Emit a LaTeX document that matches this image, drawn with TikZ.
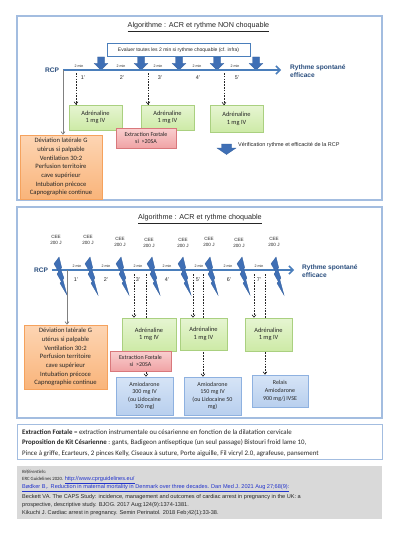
\documentclass[tikz,border=0pt]{standalone}
\usepackage{fontspec}
\setmainfont{Carlito}
\newfontfamily\arial{Liberation Sans}
\usetikzlibrary{arrows.meta}
\definecolor{frameblue}{HTML}{A3BDE0}
\definecolor{lineblue}{HTML}{4A7EBB}
\definecolor{arrowblue}{HTML}{3F6FB5}
\definecolor{arrowedge}{HTML}{35609E}
\definecolor{rcpblue}{HTML}{2A4E7E}
\definecolor{greenedge}{HTML}{AAD080}
\definecolor{greentop}{HTML}{E6F5D2}
\definecolor{greenbot}{HTML}{CDEAA6}
\definecolor{rededge}{HTML}{D9787C}
\definecolor{redtop}{HTML}{F9CFCF}
\definecolor{redbot}{HTML}{F0A3A5}
\definecolor{orangeedge}{HTML}{F5A25D}
\definecolor{orangetop}{HTML}{FDD5B3}
\definecolor{orangebot}{HTML}{F9B47A}
\definecolor{amioedge}{HTML}{8EB1E0}
\definecolor{amiotop}{HTML}{D6E4F6}
\definecolor{amiobot}{HTML}{B8CFEE}
\definecolor{refgray}{HTML}{D9D9D9}
\definecolor{linkblue}{HTML}{2233CC}
\definecolor{txt}{HTML}{262626}
\begin{document}
\begin{tikzpicture}[x=1pt,y=-1pt,
  frame/.style={draw=frameblue,line width=1.2pt},
  box/.style={draw,line width=0.6pt,align=center,inner sep=0pt,text=txt,font=\fontsize{6.4}{7.6}\selectfont},
  greenbox/.style={box,draw=greenedge,top color=greentop,bottom color=greenbot},
  redbox/.style={box,draw=rededge,top color=redtop,bottom color=redbot,font=\fontsize{6}{7.2}\selectfont},
  orangebox/.style={box,draw=orangeedge,top color=orangetop,bottom color=orangebot,font=\fontsize{6.6}{8.7}\selectfont},
  amiobox/.style={box,draw=amioedge,top color=amiotop,bottom color=amiobot,font=\fontsize{6}{7.6}\selectfont},
  evalbox/.style={draw=lineblue,line width=1pt,fill=white,inner sep=0pt,minimum width=143pt,minimum height=13pt,font=\arial\fontsize{5}{5.5}\selectfont,text=txt},
  title/.style={font=\arial\fontsize{7.2}{8}\selectfont,text=txt},
  mainline/.style={draw=lineblue,line width=1.5pt,-{Straight Barb[length=4pt,width=8pt,line width=1.5pt]}},
  rcp/.style={font=\arial\bfseries\fontsize{6.6}{7}\selectfont,text=rcpblue},
  rythme/.style={font=\arial\bfseries\fontsize{6.6}{8.2}\selectfont,text=rcpblue,align=left,anchor=west,inner sep=0pt},
  twomin/.style={font=\arial\fontsize{3.6}{4}\selectfont,text=txt,inner sep=0pt},
  minute/.style={font=\arial\fontsize{5.4}{6}\selectfont,text=txt,inner sep=0pt},
  cee/.style={font=\arial\fontsize{4.6}{5.6}\selectfont,text=txt,align=center,inner sep=0pt},
  dasharrow/.style={draw=txt,line width=0.6pt,dashed,dash pattern=on 1.6pt off 1.2pt,-{Straight Barb[length=2.5pt,width=4pt,line width=0.6pt]}},
  grayarrow/.style={draw=gray,line width=0.9pt,-{Straight Barb[length=2.5pt,width=4pt,line width=0.7pt]}},
  darrow/.pic={\filldraw[fill=arrowblue,draw=arrowedge,line width=0.3pt] (-3.5,0) -- (3.5,0) -- (3.5,6.5) -- (6.8,6.5) -- (0,13) -- (-6.8,6.5) -- (-3.5,6.5) -- cycle;},
  legarrow/.pic={\filldraw[fill=arrowblue,draw=arrowedge,line width=0.3pt] (-5,0) -- (5,0) -- (5,4) -- (9.5,4) -- (0,10.5) -- (-9.5,4) -- (-5,4) -- cycle;},
  bolt/.pic={\filldraw[fill=arrowblue,draw=arrowedge,line width=0.3pt,xscale=1.18] (4.3,0) -- (6.5,10.7) -- (5.6,12) -- (8.4,21) -- (7.5,22.6) -- (11,38) -- (5.1,26.2) -- (6.2,24.6) -- (2.6,17) -- (3.9,14.7) -- (0,6.8) -- cycle;}
]
\useasboundingbox (0,0) rectangle (400,535);
\fill[white] (0,0) rectangle (400,535);

%% ---------- Part 1 ----------
\draw[frame] (17,16) rectangle (382,200);
\node[title] (t1) at (198.5,27) {\underline{Algorithme : ACR et rythme NON choquable}};

\foreach \x in {101,141,179,217,256} \pic at (\x,57) {darrow};
\node[evalbox] (eval) at (178.5,50.5) {Evaluer toutes les 2 min si rythme choquable (cf. infra)};

\coordinate (s1) at (63,70);
\coordinate (f1) at (281,70);
\draw[mainline] (s1) -- (f1);
\node[rcp] (rcp1) at (52,70) {RCP};
\node[rythme] (ry1) at (290,71) {Rythme spontané\\efficace};

\foreach \x [count=\i] in {79,121,158,197,235} \node[twomin] (tma\i) at (\x,66) {2 min};
\foreach \x [count=\i] in {83,122,160,198,237} \node[minute] (mna\i) at (\x,77.5) {\i'};

\node[greenbox,minimum width=53pt,minimum height=25pt] (g1) at (95.5,117.5) {Adrénaline\\1 mg IV};
\node[greenbox,minimum width=53pt,minimum height=25pt] (g2) at (167.5,117.5) {Adrénaline\\1 mg IV};
\node[greenbox,minimum width=53pt,minimum height=27pt] (g3) at (236.5,119) {Adrénaline\\1 mg IV};
\node[redbox,minimum width=60pt,minimum height=20pt] (e1) at (146,138) {Extraction Fœtale\\si \ >20SA};
\node[orangebox,minimum width=82pt,minimum height=64pt] (o1) at (61,167) {Déviation latérale G\\utérus si palpable\\Ventilation 30:2\\Perfusion territoire\\cave supérieur\\Intubation précoce\\Capnographie continue};

\coordinate (da1) at (76,73);
\coordinate (da2) at (148,73);
\coordinate (da3) at (224,73);
\draw[dasharrow] (da1) -- (da1 |- g1.north);
\draw[dasharrow] (da2) -- (da2 |- g2.north);
\draw[dasharrow] (da3) -- (da3 |- g3.north);
\draw[grayarrow] (s1) -- (s1 |- o1.north);

\pic at (226.5,144) {legarrow};
\node[font=\arial\fontsize{5.5}{6}\selectfont,text=txt,anchor=west,inner sep=0pt] (leg) at (238,145.5) {Vérification rythme et efficacité de la RCP};

%% ---------- Part 2 ----------
\draw[frame] (17,207) rectangle (382,418);
\node[title] (t2) at (200,219) {\underline{Algorithme : ACR et rythme choquable}};

\foreach \x/\y [count=\i] in {56/240,88/240,120/242,149/243,183/243,209/242,239/243,274/242}
  \node[cee] (cee\i) at (\x,\y) {CEE\\200 J};

\coordinate (s2) at (52,270);
\coordinate (f2) at (294,270);
\draw[mainline] (s2) -- (f2);
\foreach \x in {54,85,116,147,178,205,237,271} \pic at (\x,257) {bolt};
\node[rcp] (rcp2) at (41,270) {RCP};
\node[rythme] (ry2) at (302,271) {Rythme spontané\\efficace};

\foreach \x [count=\i] in {77,106,138,167,199,228,259} \node[twomin] (tmb\i) at (\x,266) {2 min};
\foreach \x [count=\i] in {76,106,138,167,198,229,259} \node[minute] (mnb\i) at (\x,280) {\i'};

\coordinate (db1) at (146,274);
\coordinate (db2) at (203,274);
\coordinate (db3) at (265,274);
\coordinate (dc1) at (134,274);
\coordinate (dc2) at (193,274);
\coordinate (dc3) at (254,274);

\node[amiobox,minimum width=57pt,minimum height=38pt] (a1) at (144.5,396) {Amiodarone\\300 mg IV\\(ou Lidocaine\\100 mg)};
\node[amiobox,minimum width=57pt,minimum height=38pt] (a2) at (212.5,396) {Amiodarone\\150 mg IV\\(ou Lidocaine 50\\mg)};
\node[amiobox,minimum width=56pt,minimum height=32pt] (a3) at (280,391) {Relais\\Amiodarone\\900 mg/j IVSE};

\draw[dasharrow] (db1) -- (db1 |- a1.north);
\draw[dasharrow] (db2) -- (db2 |- a2.north);
\draw[dasharrow] (db3) -- (db3 |- a3.north);

\node[greenbox,minimum width=54pt,minimum height=33pt] (g4) at (149,334.5) {Adrénaline\\1 mg IV};
\node[greenbox,minimum width=47pt,minimum height=32pt] (g5) at (203.5,334) {Adrénaline\\1 mg IV};
\node[greenbox,minimum width=47pt,minimum height=33pt] (g6) at (268.5,334.5) {Adrénaline\\1 mg IV};
\node[redbox,minimum width=61pt,minimum height=20pt] (e2) at (140.5,361) {Extraction Fœtale\\si \ >20SA};
\node[orangebox,minimum width=83pt,minimum height=64pt] (o2) at (65.5,357) {Déviation latérale G\\utérus si palpable\\Ventilation 30:2\\Perfusion territoire\\cave supérieur\\Intubation précoce\\Capnographie continue};

\draw[dasharrow] (dc1) -- (dc1 |- g4.north);
\draw[dasharrow] (dc2) -- (dc2 |- g5.north);
\draw[dasharrow] (dc3) -- (dc3 |- g6.north);
\coordinate (s2g) at (67,270);
\draw[grayarrow] (s2g) -- (s2g |- o2.north);

%% ---------- Notes ----------
\draw[draw=frameblue,line width=0.9pt] (17,424) rectangle (382,459);
\begin{scope}[every node/.style={anchor=west,inner sep=0pt,text=txt,font=\fontsize{6.9}{8}\selectfont}]
\node (n1) at (22,432) {\textbf{Extraction Fœtale} = extraction instrumentale ou césarienne en fonction de la dilatation cervicale};
\node (n2) at (22,443) {\textbf{Proposition de Kit Césarienne} : gants, Badigeon antiseptique (un seul passage) Bistouri froid lame 10,};
\node (n3) at (22,453.5) {Pince à griffe, Ecarteurs, 2 pinces Kelly, Ciseaux à suture, Porte aiguille, Fil vicryl 2.0, agrafeuse, pansement};
\end{scope}

%% ---------- References ----------
\fill[refgray] (17,466) rectangle (382,519);
\begin{scope}[every node/.style={anchor=west,inner sep=0pt,text=txt}]
\node[font=\itshape\fontsize{4.8}{5}\selectfont] (r0) at (22,472) {Référentiels:};
\node[font=\fontsize{4.8}{5}\selectfont] (r1) at (22,480) {ERC Guidelines 2020. {\arial\fontsize{5.6}{6}\selectfont\textcolor{linkblue}{\underline{http://www.cprguidelines.eu/}}}};
\node[font=\arial\fontsize{5.6}{6}\selectfont] (r2) at (22,488.5) {\textcolor{linkblue}{\underline{Bødker B,. Reduction in maternal mortality in Denmark over three decades. Dan Med J. 2021 Aug 27;68(9):}}};
\node[font=\arial\fontsize{5.6}{6}\selectfont] (r3) at (22,497) {Beckett VA. The CAPS Study: incidence, management and outcomes of cardiac arrest in pregnancy in the UK: a};
\node[font=\arial\fontsize{5.6}{6}\selectfont] (r4) at (22,505) {prospective, descriptive study. BJOG. 2017 Aug;124(9):1374-1381.};
\node[font=\arial\fontsize{5.6}{6}\selectfont] (r5) at (22,513) {Kikuchi J. Cardiac arrest in pregnancy. Semin Perinatol. 2018 Feb;42(1):33-38.};
\end{scope}
\end{tikzpicture}
\end{document}
